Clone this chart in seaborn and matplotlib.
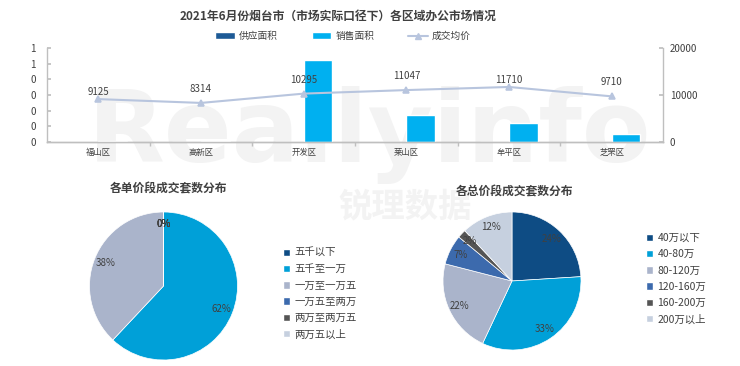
import numpy as np
import pandas as pd
import seaborn as sns
import matplotlib.pyplot as plt
from matplotlib.patches import Patch
from matplotlib.lines import Line2D

# top chart data
districts = ['福山区', '高新区', '开发区', '莱山区', '牟平区', '芝罘区']
supply_area = [0, 0, 0, 0, 0, 0]
sales_area = [200, 150, 17500, 5700, 4000, 1700]
avg_price = [9125, 8314, 10295, 11047, 11710, 9710]
left_ticklabels = ['0', '0', '0', '0', '0', '1', '1']

# pie data
unit_bins = ['五千以下', '五千至一万', '一万至一万五', '一万五至两万', '两万至两万五', '两万五以上']
unit_share = [0, 62, 38, 0, 0, 0]
total_bins = ['40万以下', '40-80万', '80-120万', '120-160万', '160-200万', '200万以上']
total_share = [24, 33, 22, 7, 2, 12]

SUPPLY_C = '#1d5a96'
SALES_C = '#00b0f0'
LINE_C = '#b8c5de'
PIE_COLORS = ['#0e4c84', '#00a0d8', '#aab4cb', '#3c6aad', '#555555', '#c6d0df']
TXT = '#404040'
AX_C = '#bfbfbf'

sns.set_theme(style='white')
plt.rcParams['font.family'] = ['Noto Sans CJK SC', 'DejaVu Sans']

W, H = 740, 366
fig = plt.figure(figsize=(W / 100, H / 100), dpi=100)


def box(x0, y0, x1, y1):
    return [x0 / W, 1 - y1 / H, (x1 - x0) / W, (y1 - y0) / H]


# watermark
fig.text(370 / W, 1 - 135 / H, 'Reallyinfo', fontsize=72, fontweight='bold',
         color='#f3f3f3', ha='center', va='center', family='DejaVu Sans', zorder=-5)
fig.text(405 / W, 1 - 207 / H, '锐理数据', fontsize=24, fontweight='bold',
         color='#f3f3f3', ha='center', va='center', zorder=-5)

# ---- top combo chart
ax1 = fig.add_axes(box(47, 48, 663, 142))
ax1.patch.set_visible(False)
ax2 = ax1.twinx()

df = pd.DataFrame({'区域': districts * 2,
                   '面积': supply_area + sales_area,
                   '类型': ['供应面积'] * 6 + ['销售面积'] * 6})
sns.barplot(data=df, x='区域', y='面积', hue='类型', palette=[SUPPLY_C, SALES_C],
            width=0.56, saturation=1, legend=False, ax=ax2)
sns.pointplot(x=districts, y=avg_price, color=LINE_C, markers='^', errorbar=None,
              markersize=4, linewidth=1.5, ax=ax2)

label_offsets = [5, 10, 10, 10, 5, 10]
for i, v in enumerate(avg_price):
    ax2.annotate(f'{v}', (i, v), xytext=(0, label_offsets[i]), textcoords='offset points',
                 ha='center', va='center', fontsize=7, color=TXT)

ax2.set_ylim(0, 20000)
ax2.set_yticks([0, 10000, 20000])
ax2.set_ylabel('')
ax2.set_xlabel('')
ax1.set_ylim(0, 1.2)
ax1.set_yticks(np.arange(0, 1.21, 0.2))
ax1.set_yticklabels(left_ticklabels)
ax1.set_xlim(-0.5, 5.5)
ax1.set_xticks(range(len(districts)))
ax1.set_xticklabels(districts)
ax1.set_xticks(np.arange(0.5, 5.0, 1.0), minor=True)

for ax in (ax1, ax2):
    ax.spines['top'].set_visible(False)
    for s in ('left', 'right', 'bottom'):
        ax.spines[s].set_color(AX_C)
        ax.spines[s].set_linewidth(1)
ax1.spines['right'].set_visible(False)
ax2.spines['left'].set_visible(False)
ax1.tick_params(axis='y', direction='in', length=3, color=AX_C, labelsize=7,
                labelcolor=TXT, pad=8, left=True)
ax2.tick_params(axis='y', direction='in', length=3, color=AX_C, labelsize=7,
                labelcolor=TXT, pad=5, right=True)
ax1.tick_params(axis='x', which='major', length=0, labelsize=6, labelcolor=TXT, pad=4)
ax1.tick_params(axis='x', which='minor', direction='out', length=3, color=AX_C, bottom=True)

handles = [Patch(facecolor=SUPPLY_C), Patch(facecolor=SALES_C),
           Line2D([], [], color=LINE_C, marker='^', markersize=4, linewidth=1.5)]
fig.legend(handles, ['供应面积', '销售面积', '成交均价'], loc='center',
           bbox_to_anchor=(343 / W, 1 - 36 / H), ncol=3, frameon=False, fontsize=7,
           handlelength=2, columnspacing=3.5, handletextpad=0.4, labelcolor=TXT)

fig.text(338 / W, 1 - 16 / H, '2021年6月份烟台市（市场实际口径下）各区域办公市场情况',
         ha='center', va='center', fontsize=8.5, fontweight='bold', color=TXT)

# ---- pies
def draw_pie(rect, values, labels, title, title_xy, legend_xy):
    ax = fig.add_axes(rect)
    ax.pie(values, colors=PIE_COLORS, startangle=90, counterclock=False,
           autopct='%.0f%%', pctdistance=0.84,
           wedgeprops=dict(edgecolor='white', linewidth=0.5),
           textprops=dict(fontsize=7, color=TXT))
    ax.set_xlim(-1, 1)
    ax.set_ylim(-1, 1)
    fig.text(title_xy[0] / W, 1 - title_xy[1] / H, title, ha='center', va='center',
             fontsize=8.5, fontweight='bold', color=TXT)
    fig.legend([Patch(facecolor=c) for c in PIE_COLORS], labels, loc='upper left',
               bbox_to_anchor=(legend_xy[0] / W, 1 - legend_xy[1] / H), frameon=False,
               fontsize=7.5, handlelength=0.7, handleheight=0.7, handletextpad=0.4,
               labelspacing=0.6, borderpad=0, borderaxespad=0, labelcolor=TXT)


draw_pie(box(89.5, 212, 237.5, 360), unit_share, unit_bins, '各单价段成交套数分布',
         (168, 189), (283, 248))
draw_pie(box(443, 212, 581, 350), total_share, total_bins, '各总价段成交套数分布',
         (514, 192), (646, 233))

fig.savefig('out.png', dpi=100)
